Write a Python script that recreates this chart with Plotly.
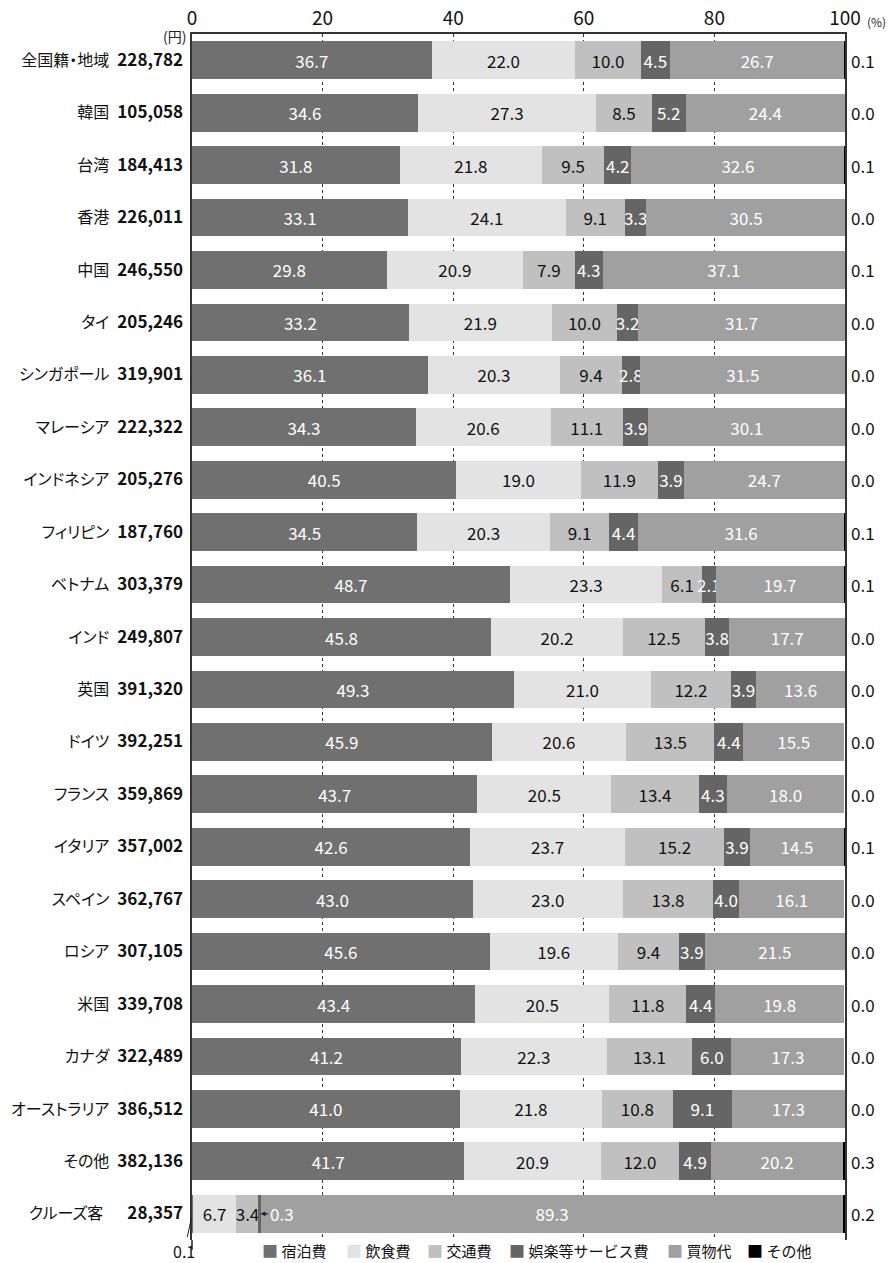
import plotly.graph_objects as go

categories = ["全国籍・地域", "韓国", "台湾", "香港", "中国", "タイ", "シンガポール", "マレーシア",
              "インドネシア", "フィリピン", "ベトナム", "インド", "英国", "ドイツ", "フランス",
              "イタリア", "スペイン", "ロシア", "米国", "カナダ", "オーストラリア", "その他", "クルーズ客"]
spending = ["228,782", "105,058", "184,413", "226,011", "246,550", "205,246", "319,901", "222,322",
            "205,276", "187,760", "303,379", "249,807", "391,320", "392,251", "359,869",
            "357,002", "362,767", "307,105", "339,708", "322,489", "386,512", "382,136", "28,357"]

lodging = [36.7, 34.6, 31.8, 33.1, 29.8, 33.2, 36.1, 34.3, 40.5, 34.5, 48.7, 45.8, 49.3, 45.9, 43.7,
           42.6, 43.0, 45.6, 43.4, 41.2, 41.0, 41.7, 0.1]
food = [22.0, 27.3, 21.8, 24.1, 20.9, 21.9, 20.3, 20.6, 19.0, 20.3, 23.3, 20.2, 21.0, 20.6, 20.5,
        23.7, 23.0, 19.6, 20.5, 22.3, 21.8, 20.9, 6.7]
transport = [10.0, 8.5, 9.5, 9.1, 7.9, 10.0, 9.4, 11.1, 11.9, 9.1, 6.1, 12.5, 12.2, 13.5, 13.4,
             15.2, 13.8, 9.4, 11.8, 13.1, 10.8, 12.0, 3.4]
entertainment = [4.5, 5.2, 4.2, 3.3, 4.3, 3.2, 2.8, 3.9, 3.9, 4.4, 2.1, 3.8, 3.9, 4.4, 4.3,
                 3.9, 4.0, 3.9, 4.4, 6.0, 9.1, 4.9, 0.3]
shopping = [26.7, 24.4, 32.6, 30.5, 37.1, 31.7, 31.5, 30.1, 24.7, 31.6, 19.7, 17.7, 13.6, 15.5, 18.0,
            14.5, 16.1, 21.5, 19.8, 17.3, 17.3, 20.2, 89.3]
other = [0.1, 0.0, 0.1, 0.0, 0.1, 0.0, 0.0, 0.0, 0.0, 0.1, 0.1, 0.0, 0.0, 0.0, 0.0,
         0.1, 0.0, 0.0, 0.0, 0.0, 0.0, 0.3, 0.2]

series_names = ["宿泊費", "飲食費", "交通費", "娯楽等サービス費", "買物代", "その他"]
x_ticks = [0, 20, 40, 60, 80, 100]

FONT = "Noto Sans CJK JP, Noto Sans, sans-serif"
colors = ["#707070", "#e3e3e3", "#c0c0c0", "#656565", "#a0a0a0", "#000000"]
text_colors = ["#ffffff", "#111111", "#111111", "#ffffff", "#ffffff", "#ffffff"]

W, H = 890, 1263
ML, MR, MT, MB = 192, 45, 34, 23
PW, PH = W - ML - MR, H - MT - MB

cruise = categories[-1]
series = [lodging, food, transport, entertainment, shopping, other]

fig = go.Figure()
for i, (name, vals) in enumerate(zip(series_names, series)):
    if i == 5:
        texts = ["" for _ in vals]
    else:
        texts = [f"{v:.1f}" for v in vals]
        # small cruise values are labelled outside the bar
        if i in (0, 3):
            texts[-1] = ""
    fig.add_trace(go.Bar(
        y=categories, x=vals, name=name, orientation="h",
        marker=dict(color=colors[i], line=dict(width=0)),
        text=texts, textposition="inside", insidetextanchor="middle",
        textangle=0, constraintext="none",
        textfont=dict(family=FONT, size=17, color=text_colors[i]),
        hoverinfo="skip", showlegend=False,
    ))

# right-hand "その他" values
for cat, v in zip(categories, other):
    fig.add_annotation(x=1, xref="paper", y=cat, yref="y", text=f"{v:.1f}",
                       showarrow=False, xanchor="left", xshift=4,
                       font=dict(family=FONT, size=17, color="#111111"))

# cruise: lodging 0.1 pointer
fig.add_annotation(x=lodging[-1] / 2, y=cruise, xref="x", yref="y", text="0.1",
                   showarrow=True, arrowhead=0, arrowwidth=1, arrowcolor="#222222",
                   ax=-8, ay=37, standoff=4,
                   font=dict(family=FONT, size=16, color="#111111"))
# cruise: entertainment 0.3 pointer
ent_x = lodging[-1] + food[-1] + transport[-1] + entertainment[-1] / 2
fig.add_annotation(x=ent_x, y=cruise, xref="x", yref="y", text="0.3",
                   showarrow=True, arrowhead=2, arrowsize=0.8, arrowwidth=1.2,
                   arrowcolor="#222222", ax=22, ay=0, standoff=1,
                   font=dict(family=FONT, size=17, color="#ffffff"))

# unit labels
fig.add_annotation(x=0, xref="paper", y=1, yref="paper", text="(円)", showarrow=False,
                   xanchor="right", yanchor="middle", xshift=-4, yshift=-2,
                   font=dict(family=FONT, size=14, color="#222222"))
fig.add_annotation(x=1, xref="paper", y=1, yref="paper", text="(%)", showarrow=False,
                   xanchor="left", yanchor="middle", xshift=20, yshift=13,
                   font=dict(family=FONT, size=12, color="#222222"))

# legend (drawn as a row of labelled swatches below the plot)
legend_px = [263, 347, 428, 510, 668, 748]
for name, col, px in zip(series_names, colors, legend_px):
    fig.add_annotation(x=(px - ML) / PW, xref="paper", y=-(1250 - (H - MB)) / PH, yref="paper",
                       text=f"<span style='color:{col};font-size:16px'>■</span> {name}",
                       showarrow=False, xanchor="left", yanchor="middle", xshift=-2,
                       borderpad=0,
                       font=dict(family=FONT, size=15, color="#111111"))

# small extension of left axis below the plot
fig.add_shape(type="line", xref="paper", yref="paper", x0=0, x1=0, y0=0, y1=-0.008,
              line=dict(color="#222222", width=1.5))


def tick_label(name, amount, gap="\u2002"):
    return (f"<span style='font-feature-settings:\"palt\"'>{name}</span>{gap}"
            f"<span style='font-size:17px'><b>{amount}</b></span>")


ticktext = [tick_label(c, s) for c, s in zip(categories, spending)]
ticktext[-1] = tick_label(cruise, spending[-1], "\u2003\u2002")

fig.update_layout(
    width=W, height=H,
    barmode="stack", bargap=0.28,
    plot_bgcolor="#ffffff", paper_bgcolor="#ffffff",
    margin=dict(l=ML, r=MR, t=MT, b=MB, autoexpand=False),
    font=dict(family=FONT, color="#111111"),
    uniformtext=dict(minsize=17, mode="show"),
    showlegend=False,
    xaxis=dict(side="top", range=[0, 100], tickvals=x_ticks, ticktext=[str(t) for t in x_ticks],
               showline=True, linecolor="#333333", linewidth=1.5, mirror=False,
               showgrid=True, gridcolor="#333333", gridwidth=1, griddash="3px,3px",
               zeroline=False, ticks="", tickfont=dict(family=FONT, size=19, color="#111111"),
               fixedrange=True),
    yaxis=dict(categoryorder="array", categoryarray=categories, autorange="reversed",
               tickvals=categories, ticktext=ticktext,
               showline=True, linecolor="#333333", linewidth=1.5, mirror=True,
               showgrid=False, zeroline=False, ticks="", ticklabelstandoff=4,
               tickfont=dict(family=FONT, size=16, color="#111111"), fixedrange=True),
)

fig.write_html("out.html", config={"displayModeBar": False},
               post_script="document.body.style.margin='0';document.body.style.overflow='hidden';")
